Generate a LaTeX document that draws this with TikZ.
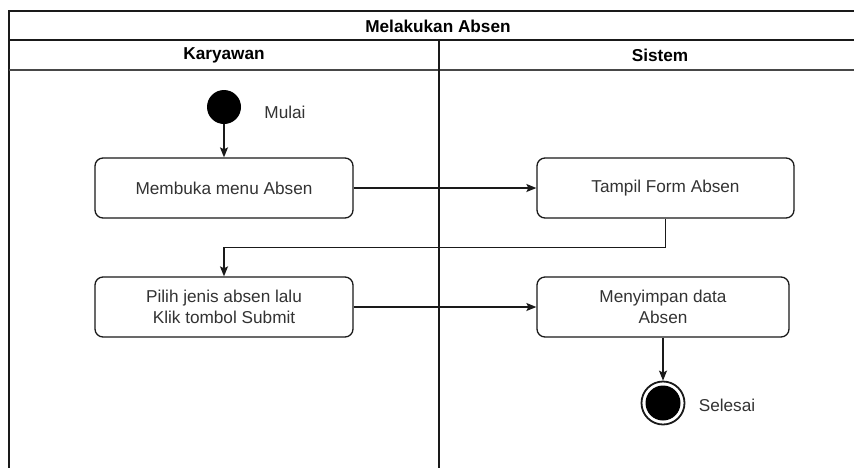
\documentclass[tikz,border=0pt]{standalone}
\usepackage{fontspec}
\setmainfont{Liberation Sans}
\usetikzlibrary{arrows.meta,calc}
\definecolor{txt}{HTML}{333333}
\definecolor{ln}{HTML}{1A1A1A}
\begin{document}
\begin{tikzpicture}[x=1pt,y=-1pt,
  act/.style={draw=ln,line width=1.3pt,rounded corners=8pt,minimum height=60pt,
    align=center,text=txt,font=\fontsize{17.2}{21.5}\selectfont,inner sep=0pt},
  lbl/.style={text=txt,font=\fontsize{17.2}{20}\selectfont},
  hdr/.style={text=black,font=\fontsize{17.2}{20}\selectfont\bfseries},
  flow/.style={draw=ln,line width=1.3pt,-{Stealth[length=10pt,width=8pt,inset=2pt]}},
  lane/.style={draw=ln,line width=1.5pt}]
\useasboundingbox (0,0) rectangle (854,467);
\fill[white] (0,0) rectangle (854,467);
\begin{scope}
\clip (0,0) rectangle (854,467);
% swimlane frame
\draw[lane] (9,480) -- (9,11) -- (870,11);
\draw[lane] (9,40) -- (870,40);
\draw[lane,draw=ln!80] (9,70) -- (870,70);
\draw[lane] (439,40) -- (439,480);
\end{scope}
\node[hdr] (title) at (438,26) {Melakukan Absen};
\node[hdr] (k) at (224,55) {Karyawan};
\node[hdr] (s) at (660,55) {Sistem};
% nodes
\node[circle,fill=black,minimum size=34pt,inner sep=0pt] (start) at (224,107) {};
\node[lbl] (mulai) at (285,112) {Mulai};
\node[act,minimum width=258pt] (b1) at (224,188) {Membuka menu Absen};
\node[act,minimum width=257pt] (b2) at (665.5,188) {Tampil Form Absen};
\node[act,minimum width=258pt] (b3) at (224,307) {Pilih jenis absen lalu\\Klik tombol Submit};
\node[act,minimum width=252pt] (b4) at (663,307) {Menyimpan data\\Absen};
\node[circle,draw=ln,line width=1.8pt,minimum size=43pt,inner sep=0pt] (end) at (663,403) {};
\node[circle,fill=black,minimum size=35pt,inner sep=0pt] (endin) at (end.center) {};
\node[lbl] (selesai) at (727,405) {Selesai};
% connectors
\draw[flow] (start) -- (b1);
\draw[flow] (b1) -- (b2);
\draw[flow] (b2.south) -- ++(0,29) -| (b3.north);
\draw[flow] (b3) -- (b4);
\draw[flow] (b4.south) -- (end.north);
\end{tikzpicture}
\end{document}
